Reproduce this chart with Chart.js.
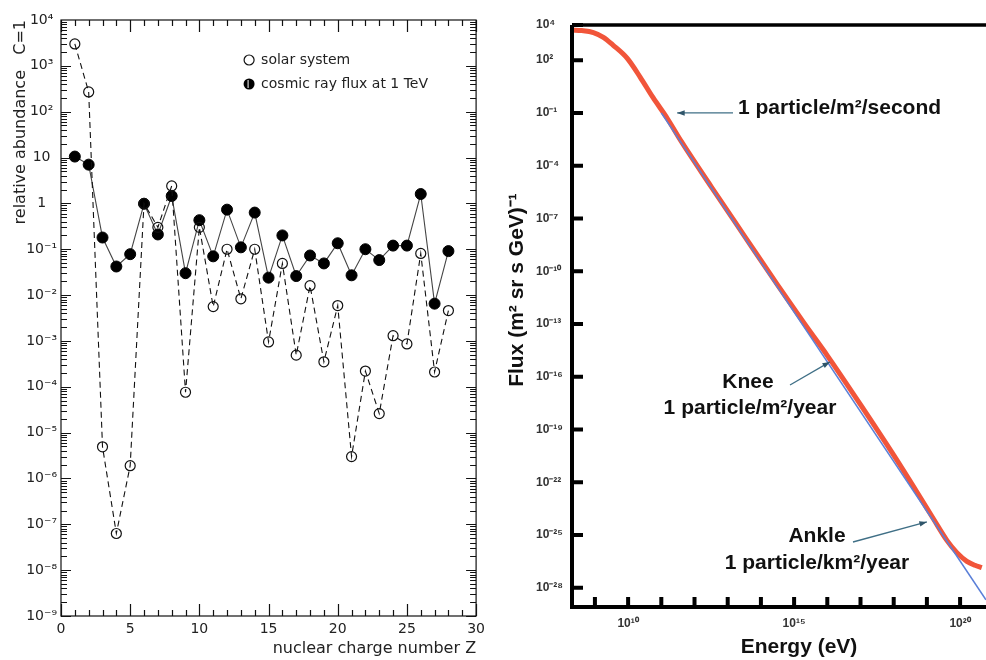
<!DOCTYPE html>
<html lang="en">
<head>
    <meta charset="UTF-8">
    <title>Cosmic ray abundances and energy spectrum</title>
    <script src="https://cdn.jsdelivr.net/npm/chart.js"></script>
    <style>
        body {
            margin: 0;
            background: #fff;
        }
        #wrap {
            position: relative;
            width: 986px;
            height: 660px;
            overflow: hidden;
        }
        #abundance {
            position: absolute;
            left: 0;
            top: 0;
        }
        #flux {
            position: absolute;
            left: 490px;
            top: 0;
        }
    </style>
</head>
<body>
<div id="wrap">
    <canvas id="abundance" width="490" height="660"></canvas>
    <canvas id="flux" width="496" height="660"></canvas>
</div>
<script>
    // Left panel: relative abundance (C = 1) vs nuclear charge
    const chargeZ = [1, 2, 3, 4, 5, 6, 7, 8, 9, 10, 11, 12, 13, 14, 15, 16, 17, 18, 19, 20, 21, 22, 23, 24, 25, 26, 27, 28];
    const solarSystem = [3000, 270, 4.9e-6, 6.3e-8, 1.9e-6, 1, 0.30, 2.4, 7.6e-5, 0.30, 5.6e-3, 0.10, 8.3e-3, 0.10,
        9.5e-4, 0.049, 4.9e-4, 0.016, 3.5e-4, 5.9e-3, 3.0e-6, 2.2e-4, 2.6e-5, 1.3e-3, 8.6e-4, 0.081, 2.1e-4, 4.6e-3];
    const cosmicRayFlux = [10.5, 7, 0.18, 0.042, 0.078, 0.98, 0.21, 1.45, 0.030, 0.43, 0.07, 0.73, 0.11, 0.63,
        0.024, 0.20, 0.026, 0.073, 0.049, 0.135, 0.027, 0.10, 0.058, 0.12, 0.12, 1.6, 0.0065, 0.091];
    const chargeTicks = [0, 5, 10, 15, 20, 25, 30];
    const abundanceTicks = [1e-9, 1e-8, 1e-7, 1e-6, 1e-5, 1e-4, 1e-3, 1e-2, 1e-1, 1, 10, 1e2, 1e3, 1e4];
    const abundanceTickLabels = ['10⁻⁹', '10⁻⁸', '10⁻⁷', '10⁻⁶', '10⁻⁵', '10⁻⁴', '10⁻³', '10⁻²', '10⁻¹', '1', '10', '10²', '10³', '10⁴'];

    // Right panel: all-particle flux vs energy
    const energyMeasured = [2.0e8, 4e8, 9e8, 1.8e9, 3.5e9, 9.3e9, 2.3e10, 5.6e10, 1.5e11, 4e11, 3.2e12, 3.2e13,
        3.2e14, 2e15, 1e16, 1e17, 1e18, 5e18, 1.6e19, 4e19, 8e19, 1.6e20, 2.8e20, 4.5e20];
    const fluxMeasured = [5.2e3, 4.8e3, 3.7e3, 2.0e3, 720, 130, 11, 0.76, 0.05, 2.4e-3, 6.3e-6, 1e-8,
        1.6e-11, 1.1e-13, 1.6e-15, 2.6e-18, 3.5e-21, 2.8e-23, 7.9e-25, 5e-26, 1e-26, 3.2e-27, 1.9e-27, 1.4e-27];
    const energyPowerLaw = [1e11, 6e20];
    const fluxPowerLaw = [0.1, 2.1e-29];
    const energyTicks = [1e9, 1e10, 1e11, 1e12, 1e13, 1e14, 1e15, 1e16, 1e17, 1e18, 1e19, 1e20];
    const energyTickLabels = ['', '10¹⁰', '', '', '', '', '10¹⁵', '', '', '', '', '10²⁰'];
    const fluxTicks = [1e-28, 1e-25, 1e-22, 1e-19, 1e-16, 1e-13, 1e-10, 1e-7, 1e-4, 1e-1, 1e2, 1e4];
    const fluxTickLabels = ['10⁻²⁸', '10⁻²⁵', '10⁻²²', '10⁻¹⁹', '10⁻¹⁶', '10⁻¹³', '10⁻¹⁰', '10⁻⁷', '10⁻⁴', '10⁻¹', '10²', '10⁴'];
    // where the three arrows point on the spectrum
    const markEnergy = [3e11, 1.2e16, 1e19];
    const markFlux = [0.1, 7e-16, 5.6e-25];

    const thinFont = '"DejaVu Sans", sans-serif';
    const boldFont = '"Liberation Sans", Arial, sans-serif';

    // box with inward ticks on all four sides + legend
    const abundanceFrame = {
        id: 'abundanceFrame',
        afterDraw(chart) {
            const {ctx, chartArea: a, scales: {x, y}} = chart;
            ctx.save();
            ctx.strokeStyle = '#111';
            ctx.lineWidth = 1.2;
            ctx.strokeRect(a.left, a.top, a.width, a.height);
            ctx.beginPath();
            for (let v = 0; v <= 30; v++) {
                const px = Math.round(x.getPixelForValue(v)) + 0.5;
                const len = v % 5 === 0 ? 12 : 6;
                ctx.moveTo(px, a.bottom); ctx.lineTo(px, a.bottom - len);
                ctx.moveTo(px, a.top); ctx.lineTo(px, a.top + len);
            }
            for (let e = -9; e < 4; e++) {
                for (let m = 1; m <= 9; m++) {
                    const py = Math.round(y.getPixelForValue(m * Math.pow(10, e))) + 0.5;
                    const len = m === 1 ? 10 : 6;
                    ctx.moveTo(a.left, py); ctx.lineTo(a.left + len, py);
                    ctx.moveTo(a.right, py); ctx.lineTo(a.right - len, py);
                }
            }
            ctx.stroke();

            // legend
            const lx = a.right - 227;
            const ly = a.top + 40;
            ctx.font = '14px ' + thinFont;
            ctx.fillStyle = '#222';
            ctx.textBaseline = 'middle';
            ctx.textAlign = 'left';
            ctx.lineWidth = 1.2;
            ctx.beginPath();
            ctx.arc(lx, ly, 5, 0, Math.PI * 2);
            ctx.stroke();
            ctx.fillText(chart.data.datasets[0].label, lx + 12, ly);
            ctx.beginPath();
            ctx.arc(lx, ly + 24, 5.5, 0, Math.PI * 2);
            ctx.fillStyle = '#000';
            ctx.fill();
            ctx.strokeStyle = '#fff';
            ctx.lineWidth = 1;
            ctx.beginPath();
            ctx.moveTo(lx - 1, ly + 20); ctx.lineTo(lx - 1, ly + 28);
            ctx.stroke();
            ctx.fillStyle = '#222';
            ctx.fillText(chart.data.datasets[1].label, lx + 12, ly + 24);
            ctx.restore();
        }
    };

    function drawArrow(ctx, x0, y0, x1, y1) {
        const ang = Math.atan2(y1 - y0, x1 - x0);
        ctx.beginPath();
        ctx.moveTo(x0, y0);
        ctx.lineTo(x1, y1);
        ctx.stroke();
        ctx.beginPath();
        ctx.moveTo(x1, y1);
        ctx.lineTo(x1 - 8 * Math.cos(ang - 0.35), y1 - 8 * Math.sin(ang - 0.35));
        ctx.lineTo(x1 - 8 * Math.cos(ang + 0.35), y1 - 8 * Math.sin(ang + 0.35));
        ctx.closePath();
        ctx.fill();
    }

    // thick axes, inward ticks, titles and the three annotations
    const fluxFrame = {
        id: 'fluxFrame',
        afterDraw(chart) {
            const {ctx, chartArea: a, scales: {x, y}} = chart;
            ctx.save();
            ctx.strokeStyle = '#000';
            ctx.lineWidth = 4;
            ctx.beginPath();
            ctx.moveTo(a.left, a.top);
            ctx.lineTo(a.left, a.bottom);
            ctx.lineTo(a.right, a.bottom);
            ctx.stroke();
            ctx.lineWidth = 3.5;
            ctx.beginPath();
            ctx.moveTo(a.left, a.top);
            ctx.lineTo(a.right, a.top);
            ctx.stroke();
            ctx.lineWidth = 4;
            ctx.beginPath();
            y.ticks.forEach(t => {
                const py = y.getPixelForValue(t.value);
                ctx.moveTo(a.left, py); ctx.lineTo(a.left + 11, py);
            });
            x.ticks.forEach(t => {
                const px = x.getPixelForValue(t.value);
                ctx.moveTo(px, a.bottom); ctx.lineTo(px, a.bottom - 10);
            });
            ctx.stroke();

            // axis titles
            ctx.fillStyle = '#111';
            ctx.textBaseline = 'middle';
            ctx.textAlign = 'center';
            ctx.font = 'bold 21px ' + boldFont;
            ctx.fillText('Energy (eV)', 309, 647);
            ctx.save();
            ctx.translate(27, 290);
            ctx.rotate(-Math.PI / 2);
            ctx.fillText('Flux (m² sr s GeV)⁻¹', 0, 0);
            ctx.restore();

            // annotations
            ctx.font = 'bold 21px ' + boldFont;
            ctx.textAlign = 'left';
            ctx.fillText('1 particle/m²/second', 248, 108);
            ctx.textAlign = 'center';
            ctx.fillText('Knee', 258, 382);
            ctx.fillText('1 particle/m²/year', 260, 408);
            ctx.fillText('Ankle', 327, 536);
            ctx.fillText('1 particle/km²/year', 327, 563);

            ctx.strokeStyle = '#3f6f86';
            ctx.fillStyle = '#2f556a';
            ctx.lineWidth = 1.3;
            const tips = markEnergy.map((e, i) => [x.getPixelForValue(e), y.getPixelForValue(markFlux[i])]);
            drawArrow(ctx, 243, tips[0][1], tips[0][0], tips[0][1]);
            drawArrow(ctx, 300, 385, tips[1][0], tips[1][1]);
            drawArrow(ctx, 363, 542, tips[2][0], tips[2][1]);
            ctx.restore();
        }
    };

    new Chart(document.getElementById('abundance'), {
        type: 'line',
        data: {
            datasets: [{
                label: 'solar system',
                data: chargeZ.map((z, i) => ({x: z, y: solarSystem[i]})),
                borderColor: '#111',
                borderWidth: 1.1,
                borderDash: [6, 4],
                pointRadius: 5,
                pointBackgroundColor: 'rgba(0,0,0,0)',
                pointBorderColor: '#111',
                pointBorderWidth: 1.2
            }, {
                label: 'cosmic ray flux at 1 TeV',
                data: chargeZ.map((z, i) => ({x: z, y: cosmicRayFlux[i]})),
                borderColor: '#444',
                borderWidth: 1.1,
                pointRadius: 5.5,
                pointBackgroundColor: '#000',
                pointBorderColor: '#000',
                pointBorderWidth: 1
            }]
        },
        options: {
            responsive: false,
            animation: false,
            layout: {padding: {top: 20, right: 13, bottom: 0, left: 0}},
            plugins: {legend: {display: false}, tooltip: {enabled: false}},
            scales: {
                x: {
                    type: 'linear',
                    min: 0,
                    max: 30,
                    afterBuildTicks: s => { s.ticks = chargeTicks.map(v => ({value: v})); },
                    afterFit: s => { s.height = 44; },
                    grid: {display: false, drawTicks: false},
                    border: {display: false},
                    ticks: {padding: 5, color: '#222', font: {family: thinFont, size: 14}},
                    title: {
                        display: true, text: 'nuclear charge number Z', align: 'end', color: '#222',
                        font: {family: thinFont, size: 16}, padding: {top: 0, bottom: 2}
                    }
                },
                y: {
                    type: 'logarithmic',
                    min: 1e-9,
                    max: 1e4,
                    afterBuildTicks: s => { s.ticks = abundanceTicks.map(v => ({value: v})); },
                    afterFit: s => { s.width = 61; },
                    grid: {display: false, drawTicks: false},
                    border: {display: false},
                    ticks: {
                        autoSkip: false, crossAlign: 'center', padding: 4, color: '#222',
                        font: {family: thinFont, size: 14},
                        callback: (v, i) => abundanceTickLabels[i]
                    },
                    title: {
                        display: true, text: 'relative abundance   C=1', align: 'end', color: '#222',
                        font: {family: thinFont, size: 16}, padding: {top: 11, bottom: 0}
                    }
                }
            }
        },
        plugins: [abundanceFrame]
    });

    new Chart(document.getElementById('flux'), {
        type: 'line',
        data: {
            datasets: [{
                label: 'power law',
                data: energyPowerLaw.map((e, i) => ({x: e, y: fluxPowerLaw[i]})),
                borderColor: '#5a7fd8',
                borderWidth: 1.5,
                pointRadius: 0
            }, {
                label: 'measured flux',
                data: energyMeasured.map((e, i) => ({x: e, y: fluxMeasured[i]})),
                borderColor: '#f1553a',
                borderWidth: 5,
                pointRadius: 0,
                cubicInterpolationMode: 'monotone'
            }]
        },
        options: {
            responsive: false,
            animation: false,
            layout: {padding: {top: 25, right: 0, bottom: 0, left: 46}},
            plugins: {legend: {display: false}, tooltip: {enabled: false}},
            scales: {
                x: {
                    type: 'logarithmic',
                    bounds: 'data',
                    min: 2.04e8,
                    max: 6.03e20,
                    afterBuildTicks: s => { s.ticks = energyTicks.map(v => ({value: v})); },
                    afterFit: s => { s.height = 53; },
                    grid: {display: false, drawTicks: false},
                    border: {display: false},
                    ticks: {
                        autoSkip: false, maxRotation: 0, padding: 9, color: '#333',
                        font: {family: boldFont, size: 12, weight: 'bold'},
                        callback: (v, i) => energyTickLabels[i]
                    }
                },
                y: {
                    type: 'logarithmic',
                    bounds: 'data',
                    min: 8.1e-30,
                    max: 1e4,
                    afterBuildTicks: s => { s.ticks = fluxTicks.map(v => ({value: v})); },
                    afterFit: s => { s.width = 36; },
                    grid: {display: false, drawTicks: false},
                    border: {display: false},
                    ticks: {
                        autoSkip: false, crossAlign: 'far', padding: 0, color: '#333',
                        font: {family: boldFont, size: 12, weight: 'bold'},
                        callback: (v, i) => fluxTickLabels[i]
                    }
                }
            }
        },
        plugins: [fluxFrame]
    });
</script>
</body>
</html>
